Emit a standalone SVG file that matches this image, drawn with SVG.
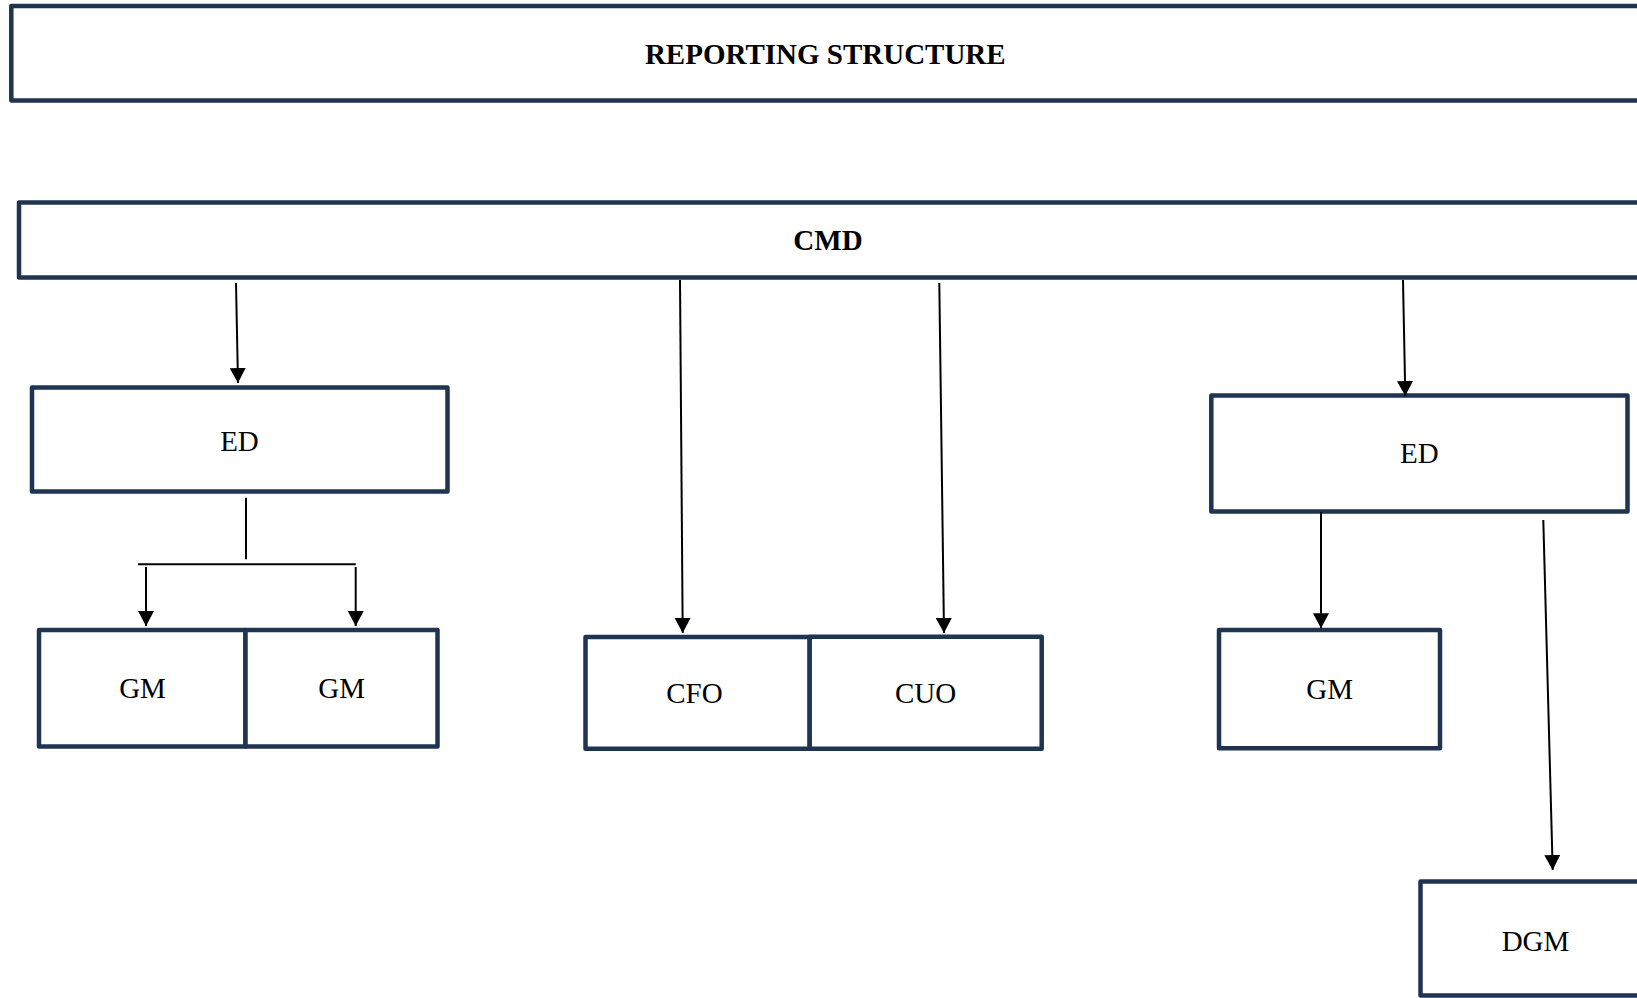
<svg xmlns="http://www.w3.org/2000/svg" width="1637" height="998" viewBox="0 0 1637 998">
<style>
.box{fill:#ffffff;stroke:#1f3451;stroke-width:4.5;stroke-linejoin:round}
.t{font-family:"Liberation Serif","Times New Roman",serif;font-size:29px;fill:#000;text-anchor:middle}
.b{font-weight:bold}
.c{stroke:#000;stroke-width:2;fill:none}
.a{marker-end:url(#ah)}
</style>
<defs>
<marker id="ah" viewBox="0 0 15 16" refX="15" refY="8" markerWidth="15" markerHeight="16" markerUnits="userSpaceOnUse" orient="auto">
<path d="M0,0 L15,8 L0,16 z" fill="#000"/>
</marker>
</defs>
<rect width="1637" height="998" fill="#ffffff"/>
<g id="title">
<rect class="box" x="11.3" y="6" width="1650" height="94.5"/>
<text class="t b" x="825.3" y="63.5" font-size="30">REPORTING STRUCTURE</text>
</g>
<g id="cmd">
<rect class="box" x="19" y="202.5" width="1650" height="75"/>
<text class="t b" x="828" y="250" font-size="28">CMD</text>
</g>
<g id="ed-left">
<rect class="box" x="32" y="387.5" width="415.5" height="104"/>
<text class="t" x="239.5" y="451">ED</text>
</g>
<g id="gm-left-1">
<rect class="box" x="39" y="630" width="206.5" height="116.5"/>
<text class="t" x="142.5" y="698">GM</text>
</g>
<g id="gm-left-2">
<rect class="box" x="245.5" y="630" width="192" height="116.5"/>
<text class="t" x="341.7" y="698">GM</text>
</g>
<g id="cfo">
<rect class="box" x="585.5" y="637" width="224.2" height="111.7"/>
<text class="t" x="694.5" y="703.3">CFO</text>
</g>
<g id="cuo">
<rect class="box" x="809.7" y="636.8" width="232" height="111.9"/>
<text class="t" x="925.5" y="703.3">CUO</text>
</g>
<g id="ed-right">
<rect class="box" x="1211.3" y="395.5" width="416.2" height="116"/>
<text class="t" x="1419.3" y="463.3">ED</text>
</g>
<g id="gm-right">
<rect class="box" x="1219" y="630" width="221" height="118.3"/>
<text class="t" x="1329.7" y="699">GM</text>
</g>
<g id="dgm">
<rect class="box" x="1420.5" y="881.5" width="260" height="114"/>
<text class="t" x="1535.5" y="951">DGM</text>
</g>
<g id="connectors">
<line class="c a" x1="236" y1="283" x2="238" y2="383"/>
<line class="c a" x1="680" y1="280" x2="682.7" y2="633"/>
<line class="c a" x1="939.3" y1="283" x2="944" y2="633"/>
<line class="c a" x1="1403" y1="280" x2="1405.3" y2="396"/>
<line class="c" x1="246" y1="497.7" x2="246" y2="559.3"/>
<line class="c" x1="138" y1="564.3" x2="355.7" y2="564.3"/>
<line class="c a" x1="146" y1="567" x2="146" y2="626"/>
<line class="c a" x1="355.7" y1="567" x2="355.7" y2="626"/>
<line class="c a" x1="1321" y1="512" x2="1321" y2="628.3"/>
<line class="c a" x1="1543.3" y1="520" x2="1552.7" y2="870"/>
</g>
</svg>
